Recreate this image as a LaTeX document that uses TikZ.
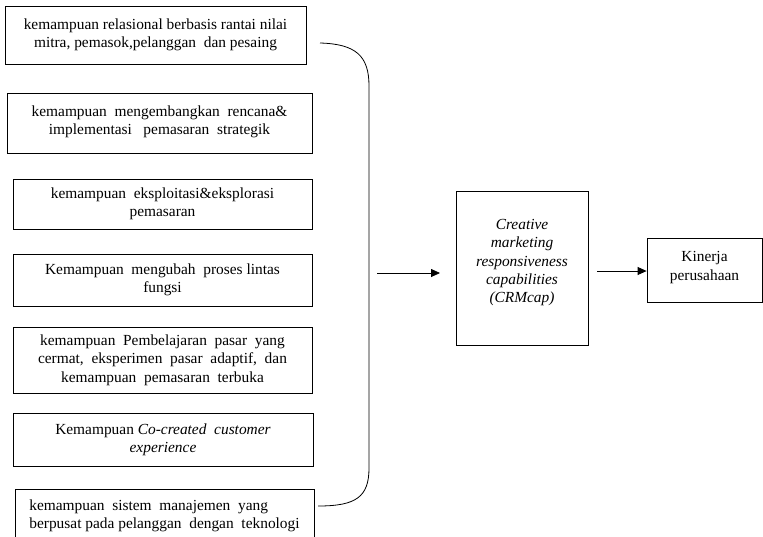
\documentclass[tikz,border=0pt]{standalone}
\usepackage{fontspec}
\setmainfont{Liberation Serif}
\usetikzlibrary{arrows.meta}
\begin{document}
\begin{tikzpicture}[x=1pt,y=-1pt,
  box/.style={draw=black, line width=0.8pt, rectangle, align=center, inner sep=0pt, font=\fontsize{15.4}{18.4}\selectfont},
  conn/.style={draw=black, line width=0.8pt},
  arr/.style={conn, -{Triangle[length=9pt,width=8pt]}}]
\clip (0,0) rectangle (763,536);
\node[box, minimum width=301pt, minimum height=58pt] (b1) at (155.5,35) {kemampuan relasional berbasis rantai nilai\\mitra, pemasok,pelanggan\ \ dan pesaing};
\node[box, minimum width=305pt, minimum height=60pt, text depth=6pt] (b2) at (159.5,123) {kemampuan\ \ mengembangkan\ \ rencana\&\\implementasi\ \ \ pemasaran\ \ strategik};
\node[box, minimum width=299pt, minimum height=50pt] (b3) at (162.5,204) {kemampuan\ \ eksploitasi\&eksplorasi\\pemasaran};
\node[box, minimum width=299pt, minimum height=52pt] (b4) at (162.5,280) {Kemampuan\ \ mengubah\ \ proses lintas\\fungsi};
\node[box, minimum width=299pt, minimum height=66pt] (b5) at (162.5,360) {kemampuan\ \ Pembelajaran\ \ pasar\ \ yang\\cermat,\ \ eksperimen\ \ pasar\ \ adaptif,\ \ dan\\kemampuan\ \ pemasaran\ \ terbuka};
\node[box, minimum width=300pt, minimum height=53pt] (b6) at (163,439.5) {Kemampuan \textit{Co-created\ \ customer}\\\textit{experience}};
\node[box, align=left, minimum width=299pt, minimum height=54pt] (b7) at (164.5,516) {kemampuan\ \ sistem\ \ manajemen\ \ yang\\berpusat pada pelanggan\ \ dengan\ \ teknologi};
\node[box, minimum width=132pt, minimum height=154pt, text depth=14pt] (crm) at (522,268) {\itshape Creative\\\itshape marketing\\\itshape responsiveness\\\itshape capabilities\\\itshape (CRMcap)};
\node[box, minimum width=115pt, minimum height=64pt, text depth=8pt] (kin) at (704.5,270) {Kinerja\\perusahaan};
\coordinate (bs) at (320,43);
\coordinate (be) at (318,506);
\coordinate (a1s) at (377,273);
\coordinate (a1e) at (440,273);
\coordinate (a2s) at (597,271);
\draw[conn] (bs) .. controls (356,44) and (369,56) .. (369,86) -- (369,468) .. controls (369,497) and (356,506) .. (be);
\draw[arr] (a1s) -- (a1e);
\draw[arr] (a2s) -- (a2s -| kin.west);
\end{tikzpicture}
\end{document}
